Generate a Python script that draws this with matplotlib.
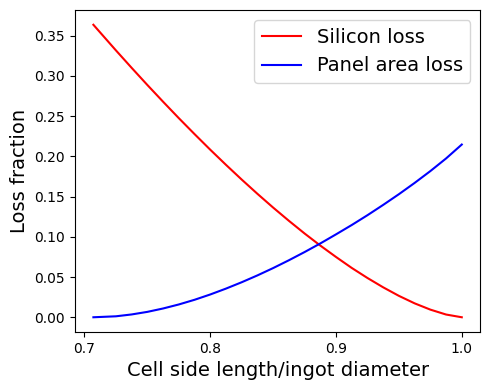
import numpy as np
import matplotlib
matplotlib.use("Agg")
import matplotlib.pyplot as plt

# cell side length / ingot diameter
ratio = [0.7071, 0.725, 0.7375, 0.75, 0.7625, 0.775, 0.7875, 0.8, 0.8125,
         0.825, 0.8375, 0.85, 0.8625, 0.875, 0.8875, 0.9, 0.9125, 0.925,
         0.9375, 0.95, 0.9625, 0.975, 0.9875, 1.0]
silicon_loss = [0.3634, 0.3316, 0.3099, 0.2886, 0.2678, 0.2474, 0.2276,
                0.2082, 0.1894, 0.1711, 0.1534, 0.1363, 0.1199, 0.1041,
                0.0891, 0.0749, 0.0613, 0.0488, 0.0372, 0.0266, 0.0173,
                0.0095, 0.0034, 0.0]
panel_loss = [0.0, 0.0012, 0.0035, 0.0067, 0.0109, 0.0159, 0.0217, 0.0283,
              0.0356, 0.0435, 0.0520, 0.0611, 0.0708, 0.0810, 0.0917,
              0.1030, 0.1146, 0.1268, 0.1396, 0.1529, 0.1669, 0.1816,
              0.1973, 0.2146]

fig, ax = plt.subplots(figsize=(4.9, 3.9), dpi=100)
ax.plot(ratio, silicon_loss, 'r', label='Silicon loss')
ax.plot(ratio, panel_loss, 'b', label='Panel area loss')
ax.set_xlabel('Cell side length/ingot diameter', fontsize=14)
ax.set_ylabel('Loss fraction', fontsize=14)
ax.set_xticks([0.7, 0.8, 0.9, 1.0])
ax.legend(fontsize=14, loc='upper right')
fig.subplots_adjust(left=0.153, right=0.98, top=0.974, bottom=0.149)
fig.savefig('out.png')
